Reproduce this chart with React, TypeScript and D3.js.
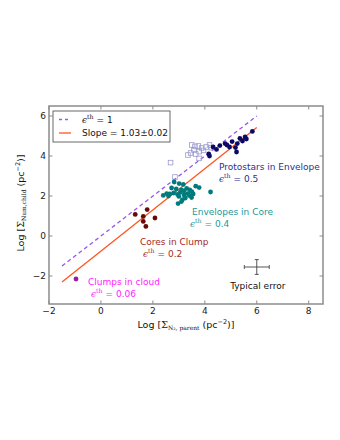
import React from "react";
import * as d3 from "d3";

const xTicks = [-2, 0, 2, 4, 6, 8];
const yTicks = [-2, 0, 2, 4, 6];

const clumpsX = [-0.96];
const clumpsY = [-2.15];

const coresX = [1.32, 1.78, 1.63, 2.08, 1.63, 1.73];
const coresY = [1.08, 1.32, 0.98, 0.9, 0.73, 0.48];

const envX = [2.82, 3.01, 3.17, 2.72, 2.9, 3.1, 3.3, 3.42, 3.5, 3.65, 3.78, 4.22, 2.53, 2.4, 2.65, 2.8, 2.95, 3.05, 3.2, 3.35, 3.55, 3.14, 3.25, 2.97, 3.49, 3.0, 3.1, 2.6, 3.4, 3.2];
const envY = [2.7, 2.62, 2.58, 2.4, 2.35, 2.3, 2.38, 2.3, 2.22, 2.49, 2.42, 2.2, 2.12, 2.03, 2.1, 2.15, 2.08, 2.18, 2.05, 2.12, 2.1, 1.82, 1.9, 1.62, 1.92, 1.98, 1.72, 2.0, 2.02, 2.25];

const protoX = [5.83, 5.55, 5.35, 5.45, 5.25, 5.05, 4.78, 4.58, 4.95, 5.18, 5.22, 4.45, 4.32, 4.15, 4.18, 4.85, 5.6];
const protoY = [5.23, 4.95, 4.88, 4.75, 4.62, 4.72, 4.62, 4.52, 4.45, 4.42, 4.2, 4.33, 4.45, 4.1, 4.0, 4.55, 4.85];

const openX = [3.5, 3.62, 3.75, 3.88, 3.58, 3.45, 3.65, 3.78, 3.95, 4.05, 4.18, 4.25, 3.35, 3.78, 2.68, 2.85];
const openY = [4.55, 4.48, 4.5, 4.4, 4.3, 4.15, 4.1, 4.22, 4.28, 4.45, 4.55, 4.42, 4.05, 3.88, 3.67, 2.95];

const lineXRange = [-1.5, 6];
const slope = 1.03;
const intercept = -0.76;

const errCenter = [6, -1.55];
const errHalf = [0.48, 0.37];

const W = 340, H = 440;
const L = 49, R = 323, T = 106, B = 304;

export default function App() {
  const x = d3.scaleLinear().domain([-2, 8.55]).range([L, R]);
  const y = d3.scaleLinear().domain([-3.4, 6.5]).range([B, T]);
  const line = d3.line<[number, number]>().x(d => x(d[0])).y(d => y(d[1]));
  const eqLine: [number, number][] = lineXRange.map(v => [v, v]);
  const fitLine: [number, number][] = lineXRange.map(v => [v, slope * v + intercept]);
  const sans = "DejaVu Sans";
  const serif = "DejaVu Serif";
  const fs = 9;
  const frame = "#8c8c8c";

  const eps = (val: string, xx: number, yy: number, color: string) => (
    <text x={xx} y={yy} fill={color} fontFamily={sans} fontSize={fs}>
      <tspan fontFamily={serif} fontStyle="italic">ϵ</tspan>
      <tspan fontFamily={serif} fontSize={6.3} dy={-3.7}>th</tspan>
      <tspan dy={3.7}>{" = " + val}</tspan>
    </text>
  );

  return (
    <svg width={W} height={H} style={{ position: "absolute", left: 0, top: 0, background: "#fff" }}>
      <rect x={0} y={0} width={W} height={H} fill="#fff" />
      <defs>
        <clipPath id="clip"><rect x={L} y={T} width={R - L} height={B - T} /></clipPath>
      </defs>
      <g clipPath="url(#clip)">
        <path d={line(eqLine) || ""} stroke="#9955ee" strokeWidth={1.3} strokeDasharray="4,3" fill="none" />
        <path d={line(fitLine) || ""} stroke="#ff5522" strokeWidth={1.3} fill="none" />
        {openX.map((v, i) => (
          <rect key={"o" + i} x={x(v) - 2.3} y={y(openY[i]) - 2.3} width={4.6} height={4.6} fill="none" stroke="#9a9acc" strokeWidth={0.8} />
        ))}
        {envX.map((v, i) => (
          <circle key={"e" + i} cx={x(v)} cy={y(envY[i])} r={2.4} fill="#007b7b" />
        ))}
        {protoX.map((v, i) => (
          <circle key={"p" + i} cx={x(v)} cy={y(protoY[i])} r={2.4} fill="#0a0a66" />
        ))}
        {coresX.map((v, i) => (
          <circle key={"c" + i} cx={x(v)} cy={y(coresY[i])} r={2.4} fill="#680808" />
        ))}
        {clumpsX.map((v, i) => (
          <circle key={"m" + i} cx={x(v)} cy={y(clumpsY[i])} r={2.4} fill="#a0189f" />
        ))}
        <line x1={x(errCenter[0] - errHalf[0])} x2={x(errCenter[0] + errHalf[0])} y1={y(errCenter[1])} y2={y(errCenter[1])} stroke="#444" strokeWidth={0.9} />
        <line x1={x(errCenter[0])} x2={x(errCenter[0])} y1={y(errCenter[1] - errHalf[1])} y2={y(errCenter[1] + errHalf[1])} stroke="#444" strokeWidth={0.9} />
        {[errCenter[0] - errHalf[0], errCenter[0] + errHalf[0]].map((v, i) => (
          <line key={"cx" + i} x1={x(v)} x2={x(v)} y1={y(errCenter[1]) - 2} y2={y(errCenter[1]) + 2} stroke="#444" strokeWidth={0.9} />
        ))}
        {[errCenter[1] - errHalf[1], errCenter[1] + errHalf[1]].map((v, i) => (
          <line key={"cy" + i} x1={x(errCenter[0]) - 2} x2={x(errCenter[0]) + 2} y1={y(v)} y2={y(v)} stroke="#444" strokeWidth={0.9} />
        ))}
      </g>
      <text x={x(errCenter[0]) + 1} y={289} textAnchor="middle" fontFamily={sans} fontSize={fs} fill="#111">Typical error</text>

      <text x={219} y={170} fontFamily={sans} fontSize={fs} fill="#2e2e90">Protostars in Envelope</text>
      {eps("0.5", 219, 182, "#2e2e90")}
      <text x={192} y={215} fontFamily={sans} fontSize={fs} fill="#1a9a9a">Envelopes in Core</text>
      {eps("0.4", 190, 227, "#1a9a9a")}
      <text x={140} y={245} fontFamily={sans} fontSize={fs} fill="#a82828">Cores in Clump</text>
      {eps("0.2", 143, 257, "#a82828")}
      <text x={88} y={285} fontFamily={sans} fontSize={fs} fill="#ff22ff">Clumps in cloud</text>
      {eps("0.06", 91, 297, "#ff22ff")}

      <rect x={L} y={T} width={R - L} height={B - T} fill="none" stroke={frame} strokeWidth={1.5} />
      {xTicks.map(t => (
        <g key={"xt" + t}>
          <line x1={x(t)} x2={x(t)} y1={B} y2={B - 3.5} stroke={frame} />
          <line x1={x(t)} x2={x(t)} y1={T} y2={T + 3.5} stroke={frame} />
          <text x={x(t)} y={314} textAnchor="middle" fontFamily={sans} fontSize={fs} fill="#222">{t < 0 ? "−" + Math.abs(t) : String(t)}</text>
        </g>
      ))}
      {yTicks.map(t => (
        <g key={"yt" + t}>
          <line x1={L} x2={L + 3.5} y1={y(t)} y2={y(t)} stroke={frame} />
          <line x1={R} x2={R - 3.5} y1={y(t)} y2={y(t)} stroke={frame} />
          <text x={46} y={y(t) + 3.2} textAnchor="end" fontFamily={sans} fontSize={fs} fill="#222">{t < 0 ? "−" + Math.abs(t) : String(t)}</text>
        </g>
      ))}

      <rect x={53} y={111} width={117} height={31} fill="#fff" stroke="#444" strokeWidth={0.8} />
      <line x1={59} x2={71} y1={119.5} y2={119.5} stroke="#9955ee" strokeWidth={1.3} strokeDasharray="3,3" />
      {eps("1", 82, 122.5, "#111")}
      <line x1={59} x2={71} y1={133} y2={133} stroke="#ff5522" strokeWidth={1.3} />
      <text x={82} y={136} fontFamily={sans} fontSize={fs} fill="#111">Slope = 1.03±0.02</text>

      <text x={186} y={328} textAnchor="middle" fontFamily={sans} fontSize={9.5} fill="#111">
        <tspan>Log [</tspan>
        <tspan fontFamily={serif}>Σ</tspan>
        <tspan fontFamily={serif} fontSize={6} dy={2}>N₂, parent</tspan>
        <tspan dy={-2}>{"  (pc"}</tspan>
        <tspan fontSize={6.5} dy={-4}>−2</tspan>
        <tspan dy={4}>)]</tspan>
      </text>
      <text transform={`translate(24,${(T + B) / 2 - 2}) rotate(-90)`} textAnchor="middle" fontFamily={sans} fontSize={9.5} fill="#111">
        <tspan>Log [</tspan>
        <tspan fontFamily={serif}>Σ</tspan>
        <tspan fontFamily={serif} fontSize={6} dy={2}>Num,child</tspan>
        <tspan dy={-2}>{"  (pc"}</tspan>
        <tspan fontSize={6.5} dy={-4}>−2</tspan>
        <tspan dy={4}>)]</tspan>
      </text>
    </svg>
  );
}
